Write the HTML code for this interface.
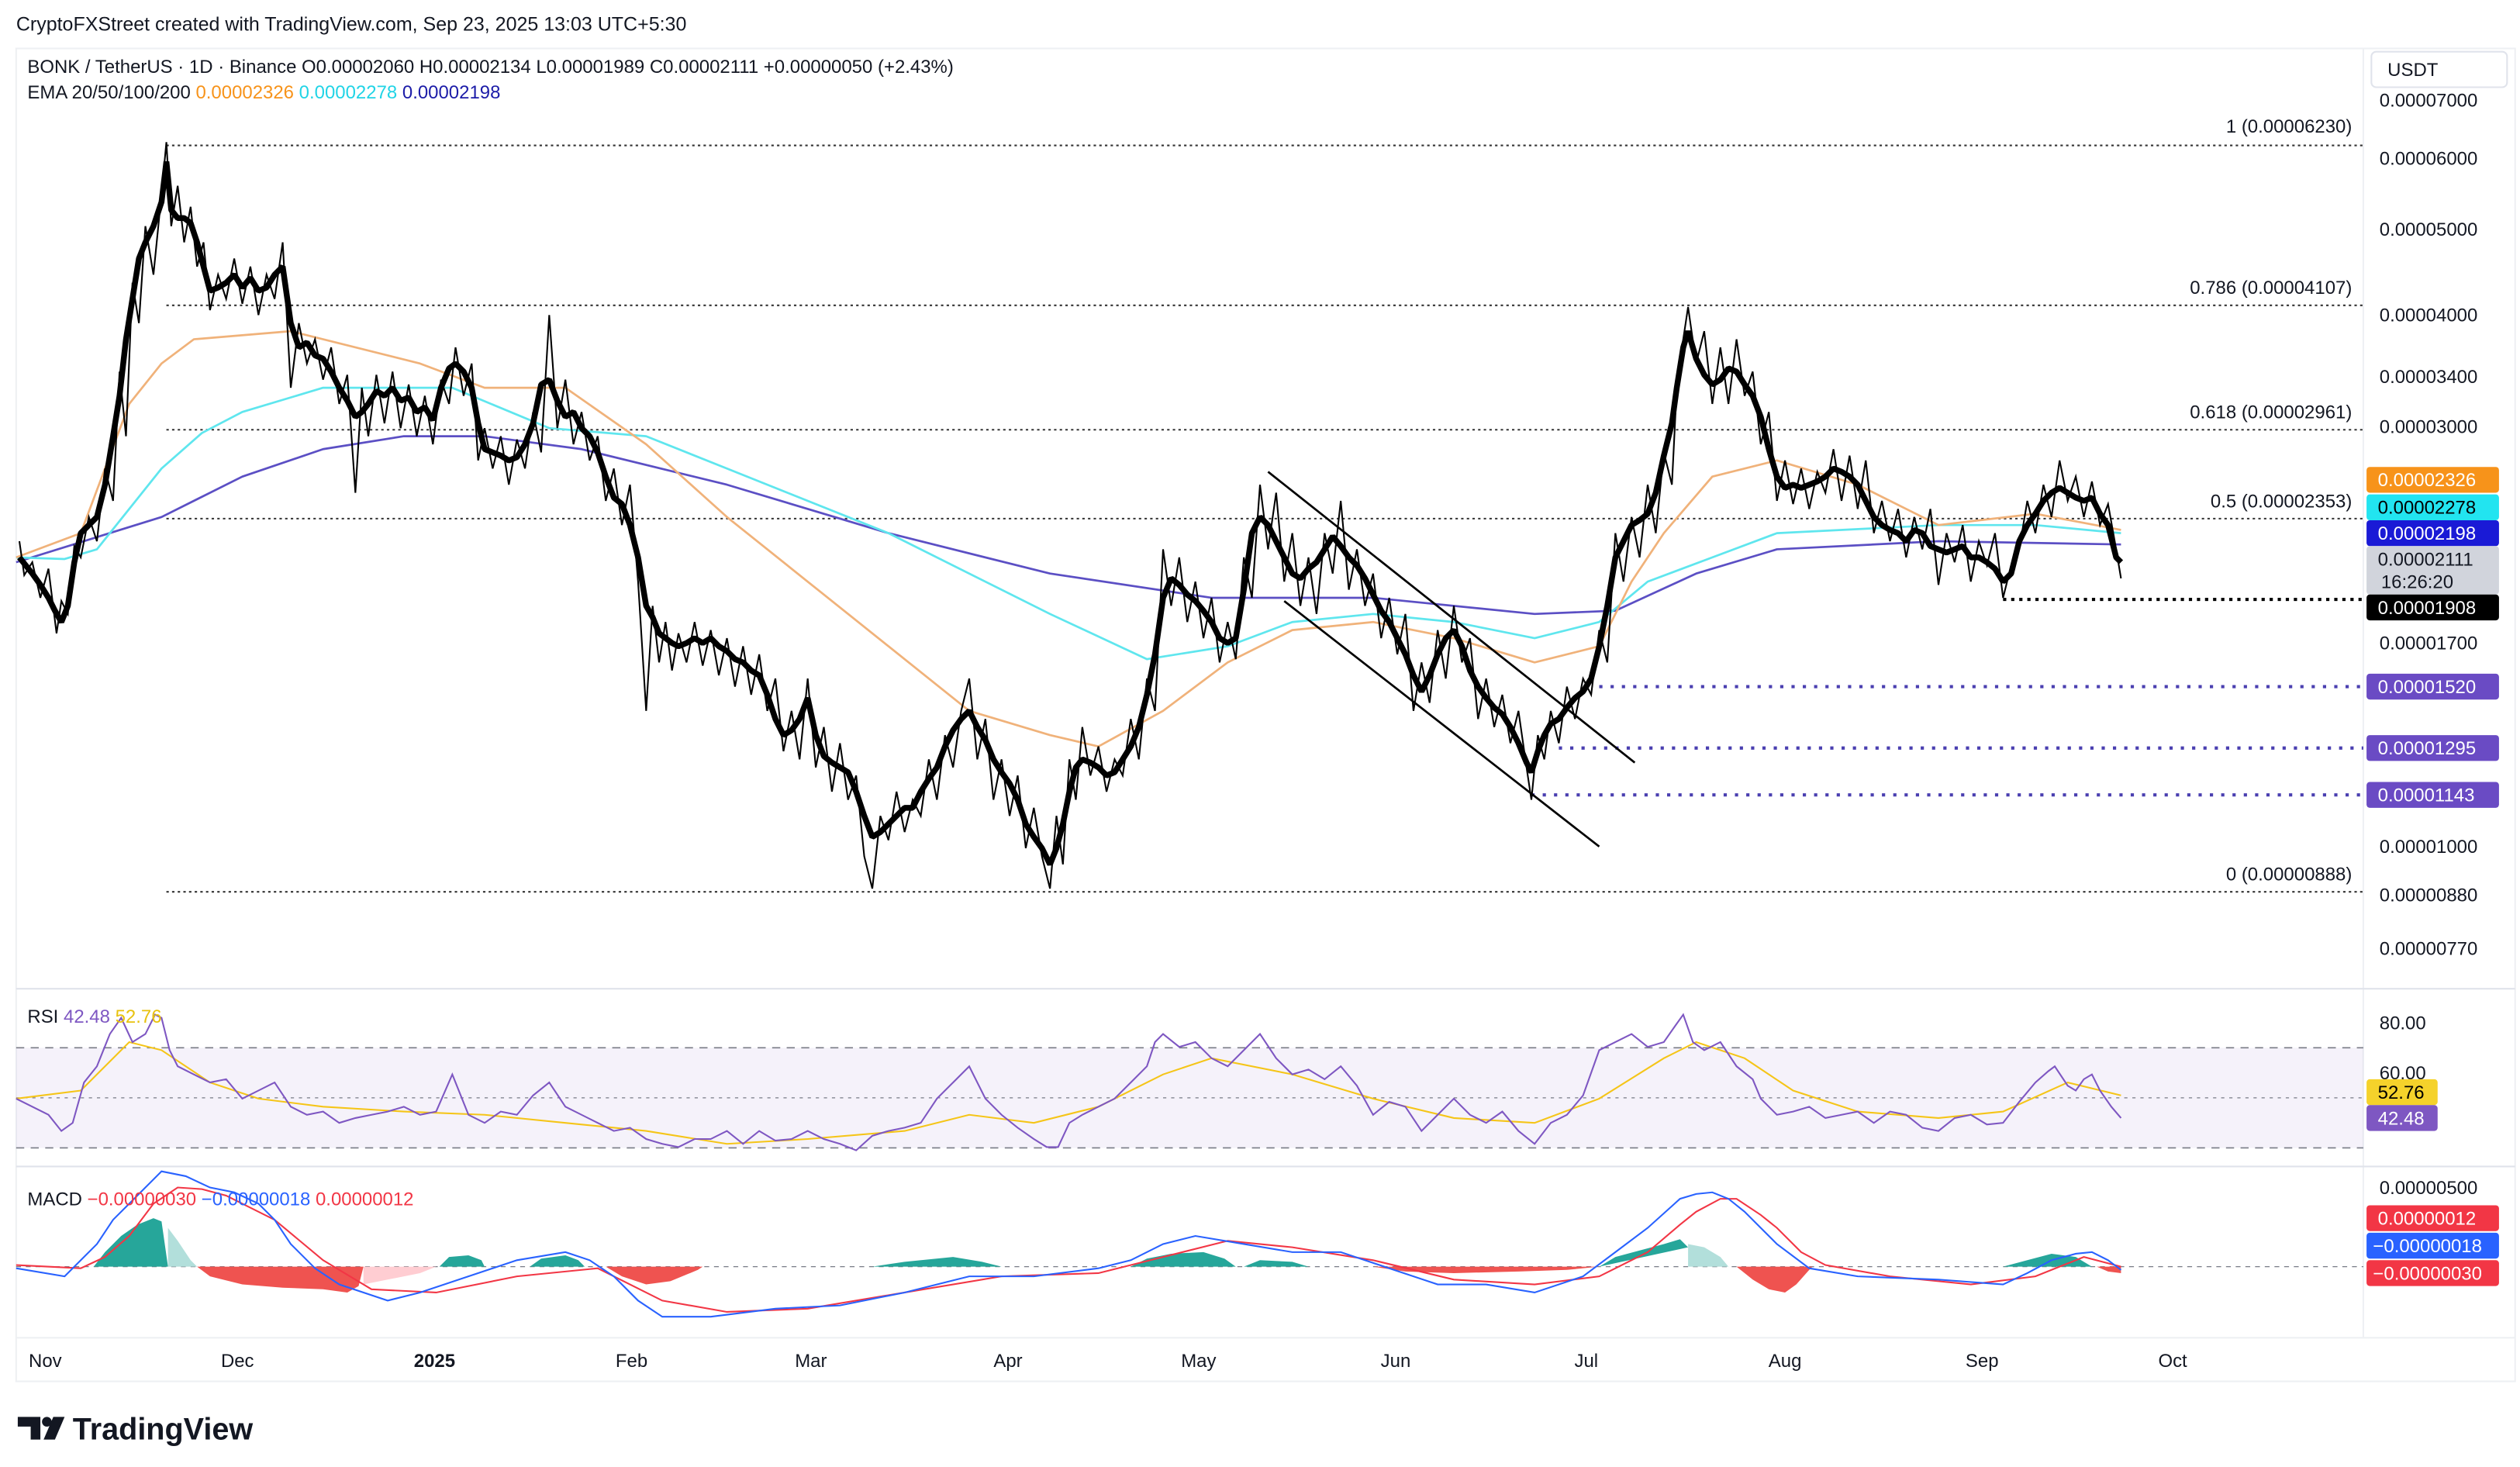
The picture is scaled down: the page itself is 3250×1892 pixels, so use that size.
<!DOCTYPE html>
<html><head><meta charset="utf-8"><style>
html,body{margin:0;padding:0;background:#fff;}
svg{display:block;font-family:"Liberation Sans",sans-serif;}
</style></head><body>
<svg width="3250" height="1892" viewBox="0 0 1560 908" preserveAspectRatio="none" xmlns="http://www.w3.org/2000/svg">
<rect x="0" y="0" width="1560" height="908" fill="#fff"/>
<text x="10" y="19" font-size="12" fill="#131722">CryptoFXStreet created with TradingView.com, Sep 23, 2025 13:03 UTC+5:30</text>
<rect x="10" y="30" width="1547" height="825" fill="none" stroke="#eef0f3"/>
<line x1="1463" y1="30" x2="1463" y2="828" stroke="#eef0f3"/>
<line x1="10" y1="612" x2="1557" y2="612" stroke="#e0e3eb"/>
<line x1="10" y1="722" x2="1557" y2="722" stroke="#e0e3eb"/>
<line x1="10" y1="828" x2="1557" y2="828" stroke="#eef0f3"/>
<rect x="10" y="648.5" width="1453" height="62" fill="#7e57c2" fill-opacity="0.08"/>
<line x1="10" y1="648.5" x2="1463" y2="648.5" stroke="#787b86" stroke-dasharray="5,4" stroke-width="0.8"/>
<line x1="10" y1="679.5" x2="1463" y2="679.5" stroke="#787b86" stroke-dasharray="2,3" stroke-width="0.6"/>
<line x1="10" y1="710.5" x2="1463" y2="710.5" stroke="#787b86" stroke-dasharray="5,4" stroke-width="0.8"/>
<line x1="10" y1="784" x2="1463" y2="784" stroke="#787b86" stroke-dasharray="3,3" stroke-width="0.6"/>
<g stroke="#333" stroke-width="1" stroke-dasharray="1.5,2">
<line x1="103" y1="90" x2="1463" y2="90"/>
<line x1="103" y1="189" x2="1463" y2="189"/>
<line x1="103" y1="266" x2="1463" y2="266"/>
<line x1="103" y1="321" x2="1463" y2="321"/>
<line x1="103" y1="552" x2="1463" y2="552"/>
</g>
<g font-size="11.5" fill="#131722" text-anchor="end">
<text x="1456" y="82">1 (0.00006230)</text>
<text x="1456" y="182">0.786 (0.00004107)</text>
<text x="1456" y="259">0.618 (0.00002961)</text>
<text x="1456" y="314">0.5 (0.00002353)</text>
<text x="1456" y="545">0 (0.00000888)</text>
</g>
<line x1="1240" y1="371" x2="1463" y2="371" stroke="#000" stroke-width="2" stroke-dasharray="2,3"/>
<g stroke="#4a3fb0" stroke-width="2" stroke-dasharray="2,5">
<line x1="990" y1="425" x2="1463" y2="425"/>
<line x1="965" y1="463" x2="1463" y2="463"/>
<line x1="948" y1="492" x2="1463" y2="492"/>
</g>
<!-- EMAs -->
<g fill="none" stroke-width="1.3" stroke-linejoin="round">
<polyline stroke="#5b4fc4" points="10,348 100,320 150,295 200,278 250,270 300,270 360,278 450,300 550,330 650,355 750,370 850,370 950,380 1000,378 1050,355 1100,340 1200,335 1313,337"/>
<polyline stroke="#5fe6ee" points="10,345 40,346 60,340 80,315 100,290 125,268 150,255 200,240 280,240 340,265 400,270 450,290 550,330 650,380 710,408 760,400 800,385 850,380 900,385 950,395 990,385 1020,360 1060,345 1100,330 1200,325 1260,325 1313,330"/>
<polyline stroke="#f0b27a" points="10,345 50,330 65,290 80,250 100,225 120,210 180,205 260,225 300,240 350,240 400,275 450,320 500,360 550,400 600,440 650,455 680,462 720,440 760,410 800,390 850,385 900,395 950,410 990,400 1010,360 1030,330 1060,295 1100,285 1150,300 1200,325 1260,318 1313,328"/>
</g>
<!-- price: wicks -->
<polyline fill="none" stroke="#000" stroke-width="1" points="12,335 15,356 20,348 25,370 30,352 35,392 38,372 42,380 46,338 50,345 55,320 60,335 65,290 70,310 74,230 78,270 82,175 86,200 90,140 95,170 100,120 103,88 106,140 110,115 114,150 118,128 122,165 126,150 130,192 135,170 140,185 145,160 150,188 155,165 160,195 165,170 170,185 175,150 180,240 185,200 190,225 195,210 200,235 205,215 210,250 215,232 220,305 224,240 228,270 233,232 238,262 243,230 248,265 253,238 258,270 263,245 268,275 273,235 278,250 282,215 287,245 292,225 296,285 300,265 305,290 310,270 315,300 320,272 325,290 330,255 335,280 340,195 345,265 350,235 355,275 360,255 365,285 370,270 375,310 380,290 385,325 390,300 395,360 400,440 404,375 408,410 412,385 416,415 420,392 425,410 430,385 435,412 440,390 445,418 450,395 455,425 460,400 465,430 470,405 475,440 480,420 485,465 490,440 495,470 500,420 505,475 510,450 515,490 520,460 525,495 530,480 535,530 540,550 545,505 550,520 555,490 560,515 565,495 570,505 575,470 580,495 585,455 590,475 595,440 600,420 605,470 610,445 615,495 620,470 625,505 630,480 635,525 640,500 645,530 650,550 654,505 658,535 662,470 666,495 670,450 675,480 680,462 685,490 690,470 695,480 700,445 705,470 710,420 715,440 720,340 725,375 730,345 735,385 740,360 745,395 750,370 755,410 760,385 765,408 770,345 775,370 780,300 785,340 790,305 795,360 800,330 805,375 810,345 815,380 820,330 825,355 830,310 835,365 840,340 845,375 850,355 855,395 860,370 865,405 870,380 875,440 880,410 885,435 890,390 895,420 900,375 905,410 910,395 915,445 920,420 925,450 930,430 935,460 940,440 945,475 948,495 952,455 956,470 960,440 965,460 970,425 975,445 980,420 985,430 990,390 995,410 1000,330 1005,360 1010,320 1015,345 1020,300 1025,330 1030,280 1035,300 1038,240 1042,210 1045,190 1050,225 1055,205 1060,250 1065,215 1070,250 1075,210 1080,245 1085,230 1090,275 1095,255 1100,310 1105,285 1110,312 1115,290 1120,315 1125,292 1130,305 1135,278 1140,310 1145,282 1150,315 1155,285 1160,330 1165,310 1170,335 1175,315 1180,345 1185,320 1190,340 1195,315 1200,362 1205,330 1210,348 1215,325 1220,360 1225,335 1230,350 1235,330 1240,370 1245,350 1250,340 1255,310 1260,330 1265,300 1270,320 1275,285 1280,310 1285,295 1290,320 1295,298 1300,325 1305,312 1310,340 1313,358"/>
<!-- price: bodies -->
<polyline fill="none" stroke="#000" stroke-width="3.6" stroke-linejoin="bevel" points="12,345 16,350 20,355 25,362 30,370 34,378 38,385 42,375 46,348 50,330 55,325 60,320 65,300 70,270 74,245 78,210 82,185 86,160 90,150 95,140 100,125 103,100 106,130 110,135 114,135 118,138 122,150 126,165 130,180 135,178 140,175 145,170 150,178 155,172 160,180 165,178 170,170 175,165 180,200 185,215 190,212 195,220 200,222 205,230 210,240 215,248 220,258 224,255 228,250 233,242 238,245 243,240 248,248 253,246 258,255 263,252 268,260 273,240 278,228 282,225 287,230 292,240 296,262 300,278 305,280 310,282 315,285 320,283 325,275 330,262 335,238 340,235 345,248 350,258 355,255 360,265 365,270 370,280 375,295 380,308 385,312 390,325 395,345 400,375 404,382 408,392 412,395 416,398 420,400 425,398 430,395 435,398 440,395 445,400 450,403 455,408 460,410 465,415 470,418 475,430 480,445 485,455 490,452 495,445 500,432 505,455 510,468 515,472 520,475 525,478 530,490 535,505 540,518 545,515 550,510 555,505 560,500 565,500 570,490 575,482 580,475 585,462 590,452 595,445 600,440 605,450 610,458 615,470 620,478 625,485 630,495 635,510 640,518 645,525 650,535 654,525 658,510 662,490 666,475 670,470 675,472 680,475 685,480 690,478 695,470 700,462 705,450 710,430 715,405 720,370 725,358 730,362 735,368 740,372 745,378 750,385 755,395 760,398 765,395 770,365 775,330 780,320 785,325 790,335 795,345 800,355 805,358 810,352 815,348 820,340 825,332 830,338 835,345 840,350 845,358 850,368 855,378 860,385 865,395 870,405 875,418 880,428 885,418 890,405 895,395 900,390 905,400 910,415 915,425 920,432 925,438 930,442 935,450 940,460 945,472 948,478 952,465 956,455 960,448 965,445 970,438 975,432 980,428 985,420 990,400 995,375 1000,345 1005,335 1010,325 1015,322 1020,318 1025,305 1030,282 1035,262 1038,240 1042,215 1045,205 1050,222 1055,232 1060,238 1065,235 1070,228 1075,230 1080,238 1085,245 1090,258 1095,278 1100,295 1105,302 1110,300 1115,302 1120,300 1125,298 1130,295 1135,290 1140,292 1145,295 1150,300 1155,310 1160,320 1165,325 1170,328 1175,330 1180,335 1185,328 1190,330 1195,338 1200,340 1205,342 1210,340 1215,338 1220,345 1225,345 1230,348 1235,352 1240,360 1245,355 1250,335 1255,325 1260,318 1265,310 1270,305 1275,302 1280,305 1285,308 1290,310 1295,308 1300,318 1305,325 1310,345 1313,348"/>
<line x1="785" y1="292" x2="1012" y2="472" stroke="#000" stroke-width="1.3"/>
<line x1="795" y1="372" x2="990" y2="524" stroke="#000" stroke-width="1.3"/>
<!-- RSI -->
<polyline fill="none" stroke="#f5c518" stroke-width="1" points="10,680 50,675 65,660 80,645 100,650 130,670 160,680 200,685 250,688 300,690 350,695 400,700 450,708 500,705 560,700 600,690 640,695 680,685 720,665 750,655 800,665 850,680 900,692 950,695 990,680 1030,655 1050,645 1080,655 1110,675 1150,688 1200,692 1240,688 1280,670 1313,678"/>
<polyline fill="none" stroke="#7e57c2" stroke-width="1" points="10,680 20,685 30,690 38,700 45,695 52,670 60,660 68,640 75,630 82,645 90,640 96,628 100,630 105,650 110,660 120,665 130,670 140,668 150,680 160,675 170,670 180,685 190,690 200,688 210,695 220,692 230,690 240,688 250,685 260,690 270,688 280,665 290,690 300,695 310,688 320,690 330,678 340,670 350,685 360,690 370,695 380,700 390,698 400,705 410,708 420,710 430,705 440,705 450,700 460,708 470,700 480,706 490,705 500,700 510,705 520,708 530,712 540,703 550,700 560,698 570,695 580,680 590,670 600,660 610,680 620,690 630,698 640,705 648,710 655,710 662,695 670,690 680,685 690,680 700,670 710,660 715,645 720,640 730,648 740,645 750,655 760,660 770,650 780,640 790,655 800,665 810,662 820,668 830,660 840,672 850,690 860,682 870,685 880,700 890,690 900,680 910,690 920,695 930,688 940,700 950,708 960,695 970,690 980,678 990,650 1000,645 1010,640 1020,648 1030,645 1037,635 1042,628 1048,645 1055,650 1065,645 1075,660 1085,668 1090,680 1100,690 1110,688 1120,685 1130,692 1140,690 1150,688 1160,695 1170,688 1180,690 1190,698 1200,700 1210,692 1220,690 1230,696 1240,695 1250,682 1260,670 1268,663 1272,660 1280,672 1285,675 1290,668 1295,665 1300,675 1307,685 1313,692"/>
<!-- MACD histogram -->
<g>
<polygon fill="#26a69a" points="58,784 65,775 75,765 85,758 95,754 100,756 104,784"/>
<polygon fill="#b2dfdb" points="104,784 104,760 110,768 118,780 122,784"/>
<polygon fill="#ef5350" points="122,784 130,790 150,795 175,797 200,798 215,800 222,796 225,784"/>
<polygon fill="#ffcdd2" points="225,784 225,795 240,792 260,788 270,784"/>
<polygon fill="#26a69a" points="272,784 278,778 290,777 298,780 300,784"/>
<polygon fill="#26a69a" points="328,784 335,779 350,777 358,780 362,784"/>
<polygon fill="#ef5350" points="375,784 385,790 400,795 415,793 432,786 435,784"/>
<polygon fill="#26a69a" points="540,784 560,781 590,778 608,781 620,784"/>
<polygon fill="#26a69a" points="700,784 710,779 725,776 745,775 758,779 765,784"/>
<polygon fill="#26a69a" points="770,784 780,780 800,781 810,784"/>
<polygon fill="#ef5350" points="850,784 870,787 900,788 940,787 970,786 990,784"/>
<polygon fill="#26a69a" points="990,784 1000,778 1015,774 1030,770 1040,767 1045,772"/>
<polygon fill="#b2dfdb" points="1045,784 1045,770 1055,772 1065,778 1070,784"/>
<polygon fill="#ef5350" points="1075,784 1085,792 1095,798 1105,800 1112,795 1120,786 1122,784"/>
<polygon fill="#26a69a" points="1240,784 1255,780 1270,776 1285,778 1295,784"/>
<polygon fill="#ef5350" points="1298,784 1305,787 1313,788 1313,784"/>
</g>
<polyline fill="none" stroke="#f23645" stroke-width="1" points="10,783 50,785 65,778 80,765 95,745 110,735 125,736 140,740 170,755 200,780 230,798 270,800 320,790 370,785 390,795 410,805 450,812 500,810 560,800 620,790 680,788 720,778 760,768 800,772 850,780 900,792 950,795 990,790 1020,775 1040,758 1050,750 1065,742 1075,742 1090,752 1100,760 1115,775 1130,783 1170,790 1220,795 1260,790 1290,778 1313,784"/>
<polyline fill="none" stroke="#2962ff" stroke-width="1" points="10,785 40,790 60,770 70,755 80,745 90,735 100,725 115,728 130,735 145,738 160,745 170,755 180,770 195,785 210,795 240,805 260,800 290,790 320,780 350,775 365,780 380,790 395,805 410,815 440,815 480,810 520,808 560,800 600,790 640,790 680,785 700,780 720,770 740,765 770,770 800,775 830,775 860,785 890,795 920,795 950,800 980,790 1000,775 1020,760 1040,742 1050,739 1060,738 1070,742 1080,750 1090,760 1100,770 1120,785 1150,790 1200,792 1240,795 1255,788 1270,780 1285,776 1295,775 1305,780 1313,786"/>
<!-- legends -->
<g font-size="11.5">
<text x="17" y="45" fill="#131722">BONK / TetherUS · 1D · Binance  O0.00002060  H0.00002134  L0.00001989  C0.00002111  +0.00000050 (+2.43%)</text>
<text x="17" y="61" fill="#131722">EMA 20/50/100/200 <tspan fill="#f7931a">0.00002326</tspan> <tspan fill="#21d4e6">0.00002278</tspan> <tspan fill="#1c1ca8">0.00002198</tspan></text>
<text x="17" y="633" fill="#131722">RSI <tspan fill="#7e57c2">42.48</tspan> <tspan fill="#e8c20f">52.76</tspan></text>
<text x="17" y="746" fill="#131722">MACD <tspan fill="#f23645">−0.00000030</tspan> <tspan fill="#2962ff">−0.00000018</tspan> <tspan fill="#f23645">0.00000012</tspan></text>
</g>
<rect x="1468" y="32" width="84" height="22" rx="3" fill="#fff" stroke="#e0e3eb"/>
<text x="1478" y="47" font-size="11.5" fill="#131722">USDT</text>
<g font-size="11.5" fill="#131722">
<text x="1473" y="66">0.00007000</text>
<text x="1473" y="102">0.00006000</text>
<text x="1473" y="146">0.00005000</text>
<text x="1473" y="199">0.00004000</text>
<text x="1473" y="237">0.00003400</text>
<text x="1473" y="268">0.00003000</text>
<text x="1473" y="402">0.00001700</text>
<text x="1473" y="528">0.00001000</text>
<text x="1473" y="558">0.00000880</text>
<text x="1473" y="591">0.00000770</text>
<text x="1473" y="637">80.00</text>
<text x="1473" y="668">60.00</text>
<text x="1473" y="739">0.00000500</text>
</g>
<g font-size="11.5">
<rect x="1465" y="289" width="82" height="16" rx="2" fill="#f7931a"/><text x="1472" y="301" fill="#fff">0.00002326</text>
<rect x="1465" y="306" width="82" height="16" rx="2" fill="#22e4f0"/><text x="1472" y="318" fill="#000">0.00002278</text>
<rect x="1465" y="322" width="82" height="16" rx="2" fill="#1a1ad6"/><text x="1472" y="334" fill="#fff">0.00002198</text>
<rect x="1465" y="338" width="82" height="30" rx="2" fill="#d1d4dc"/><text x="1472" y="350" fill="#131722">0.00002111</text><text x="1474" y="364" fill="#131722">16:26:20</text>
<rect x="1465" y="368" width="82" height="16" rx="2" fill="#000"/><text x="1472" y="380" fill="#fff">0.00001908</text>
<rect x="1465" y="417" width="82" height="16" rx="2" fill="#6a4bc4"/><text x="1472" y="429" fill="#fff">0.00001520</text>
<rect x="1465" y="455" width="82" height="16" rx="2" fill="#6a4bc4"/><text x="1472" y="467" fill="#fff">0.00001295</text>
<rect x="1465" y="484" width="82" height="16" rx="2" fill="#6a4bc4"/><text x="1472" y="496" fill="#fff">0.00001143</text>
<rect x="1465" y="668" width="44" height="16" rx="2" fill="#f5d22b"/><text x="1472" y="680" fill="#000">52.76</text>
<rect x="1465" y="684" width="44" height="16" rx="2" fill="#7e57c2"/><text x="1472" y="696" fill="#fff">42.48</text>
<rect x="1465" y="746" width="82" height="16" rx="2" fill="#f23645"/><text x="1472" y="758" fill="#fff">0.00000012</text>
<rect x="1465" y="763" width="82" height="16" rx="2" fill="#2962ff"/><text x="1469" y="775" fill="#fff">−0.00000018</text>
<rect x="1465" y="780" width="82" height="16" rx="2" fill="#f23645"/><text x="1469" y="792" fill="#fff">−0.00000030</text>
</g>
<g font-size="11.5" fill="#131722" text-anchor="middle">
<text x="28" y="846">Nov</text><text x="147" y="846">Dec</text><text x="269" y="846" font-weight="bold">2025</text>
<text x="391" y="846">Feb</text><text x="502" y="846">Mar</text><text x="624" y="846">Apr</text>
<text x="742" y="846">May</text><text x="864" y="846">Jun</text><text x="982" y="846">Jul</text>
<text x="1105" y="846">Aug</text><text x="1227" y="846">Sep</text><text x="1345" y="846">Oct</text>
</g>
<g fill="#131722">
<path d="M11 877h14v14h-6v-8h-8z"/><circle cx="29" cy="880" r="3"/><path d="M33 877h7l-6 14h-7z"/>
<text x="45" y="891" font-size="19" font-weight="bold">TradingView</text>
</g>
</svg>
</body></html>
